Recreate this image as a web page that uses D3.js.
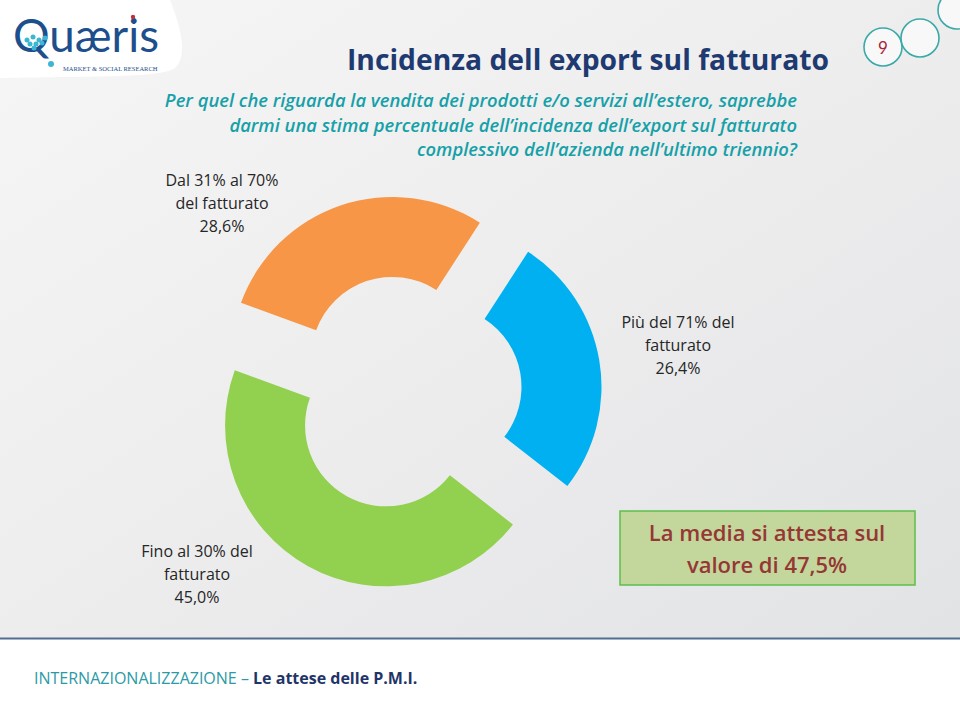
<!DOCTYPE html>
<html><head><meta charset="utf-8">
<script src="https://cdn.jsdelivr.net/npm/d3@7"></script>
<style>
html,body{margin:0;padding:0;background:#fff;}
svg{display:block;}
</style></head>
<body>
<svg id="c" width="960" height="720"></svg>
<script>
// ---- data ----
const categories = ["Fino al 30% del fatturato", "Dal 31% al 70% del fatturato", "Più del 71% del fatturato"];
const values = [45.0, 28.6, 26.4];
const valueLabels = ["45,0%", "28,6%", "26,4%"];
const labelLines = [["Fino al 30% del", "fatturato"], ["Dal 31% al 70%", "del fatturato"], ["Più del 71% del", "fatturato"]];
const colors = ["#92d050", "#f79646", "#00b0f0"];
const title = "Incidenza dell export sul fatturato";
const question = ["Per quel che riguarda la vendita dei prodotti e/o servizi all’estero, saprebbe",
                  "darmi una stima percentuale dell’incidenza dell’export sul fatturato",
                  "complessivo dell’azienda nell’ultimo triennio?"];
const meanText = ["La media si attesta sul", "valore di 47,5%"];

const svg = d3.select("#c");
const defs = svg.append("defs");
const bg = defs.append("linearGradient").attr("id","bg").attr("x1","0").attr("y1","0").attr("x2","1").attr("y2","1");
bg.append("stop").attr("offset","0").attr("stop-color","#f6f6f7");
bg.append("stop").attr("offset","0.5").attr("stop-color","#ededee");
bg.append("stop").attr("offset","1").attr("stop-color","#e2e3e5");
svg.append("rect").attr("width",960).attr("height",638).attr("fill","url(#bg)");
svg.append("rect").attr("y",638).attr("width",960).attr("height",82).attr("fill","#ffffff");
svg.append("line").attr("x1",0).attr("x2",960).attr("y1",638.5).attr("y2",638.5).attr("stroke","#4f6f91").attr("stroke-width",2);

// logo white blob
svg.append("path").attr("d","M0,0 L170,0 C178,20 190,55 175,68 C160,78 100,76 0,78 Z").attr("fill","#ffffff");
// logo
const logo = svg.append("g");
logo.append("text").attr("x",13).attr("y",52).attr("font-family","Lato, sans-serif").attr("font-size",46)
  .attr("fill","#1d4f8c").attr("textLength",146).attr("lengthAdjust","spacingAndGlyphs").text("Quæris");
[[27,40],[33,37],[39,40],[30,44],[36,44],[42,43],[45,38],[34,48]].forEach(p=>
  logo.append("circle").attr("cx",p[0]).attr("cy",p[1]).attr("r",2.5).attr("fill","#3cb6d4"));
logo.append("circle").attr("cx",51).attr("cy",64).attr("r",3).attr("fill","#3cb6d4");
logo.append("circle").attr("cx",133).attr("cy",17).attr("r",2.2).attr("fill","#c0303a");
logo.append("text").attr("x",63).attr("y",71).attr("font-family","Liberation Serif, serif").attr("font-size",6.5)
  .attr("fill","#1d4f8c").text("MARKET & SOCIAL RESEARCH");

// page circles
[[883,47],[920,38],[957,10]].forEach(p=>
  svg.append("circle").attr("cx",p[0]).attr("cy",p[1]).attr("r",19).attr("fill","#ffffff").attr("fill-opacity",0.6)
    .attr("stroke","#3aa9a8").attr("stroke-width",1.6));
svg.append("text").attr("x",883).attr("y",54).attr("text-anchor","middle").attr("font-family","Lato, sans-serif")
  .attr("font-size",17).attr("fill","#a8243a").text("9");

// title
svg.append("text").attr("x",347).attr("y",70).attr("font-family","Open Sans, sans-serif")
  .attr("font-weight","bold").attr("font-size",28).attr("fill","#1f3a70")
  .attr("textLength",482).attr("lengthAdjust","spacingAndGlyphs").text(title);
// question
svg.append("g").selectAll("text").data(question).join("text")
  .attr("x",797).attr("y",(d,i)=>107+i*24.5).attr("text-anchor","end")
  .attr("font-family","Open Sans, sans-serif").attr("font-style","italic").attr("font-weight",600)
  .attr("font-size",18.4).attr("fill","#16a0a8").text(d=>d);

// donut
const C = [404, 393];
const inner = 81, outer = 161, explode = 37;
const a0 = 128 * Math.PI / 180;
const pie = d3.pie().sort(null).startAngle(a0).endAngle(a0 + 2*Math.PI);
const arcs = pie(values);
const arc = d3.arc().innerRadius(inner).outerRadius(outer);
const g = svg.append("g").attr("transform",`translate(${C[0]},${C[1]})`);
g.selectAll("path").data(arcs).join("path")
  .attr("d",arc).attr("fill",(d,i)=>colors[i])
  .attr("transform",d=>{const m=(d.startAngle+d.endAngle)/2; return `translate(${explode*Math.sin(m)},${-explode*Math.cos(m)})`;});

// labels
const labelPos = [[197,557],[222,186],[678,328]];
categories.forEach((c,i)=>{
  const lines = labelLines[i].concat([valueLabels[i]]);
  svg.append("g").selectAll("text").data(lines).join("text")
    .attr("x",labelPos[i][0]).attr("y",(d,j)=>labelPos[i][1]+j*23).attr("text-anchor","middle")
    .attr("font-family","Open Sans, sans-serif").attr("font-size",16).attr("fill","#262626").text(d=>d);
});

// mean box
svg.append("rect").attr("x",620).attr("y",511).attr("width",295).attr("height",74)
  .attr("fill","#c3d69b").attr("stroke","#5cbf4a").attr("stroke-width",1.5);
svg.append("g").selectAll("text").data(meanText).join("text")
  .attr("x",767).attr("y",(d,i)=>541+i*32).attr("text-anchor","middle")
  .attr("font-family","Open Sans, sans-serif").attr("font-weight",600).attr("font-size",22)
  .attr("fill","#953735").text(d=>d);

// footer
const ft = svg.append("text").attr("x",34).attr("y",684).attr("font-family","Open Sans, sans-serif").attr("font-size",16);
ft.append("tspan").attr("fill","#2a9aa6").text("INTERNAZIONALIZZAZIONE – ");
ft.append("tspan").attr("fill","#1f3568").attr("font-weight","bold").text(" Le attese delle P.M.I.");
</script>
</body></html>
